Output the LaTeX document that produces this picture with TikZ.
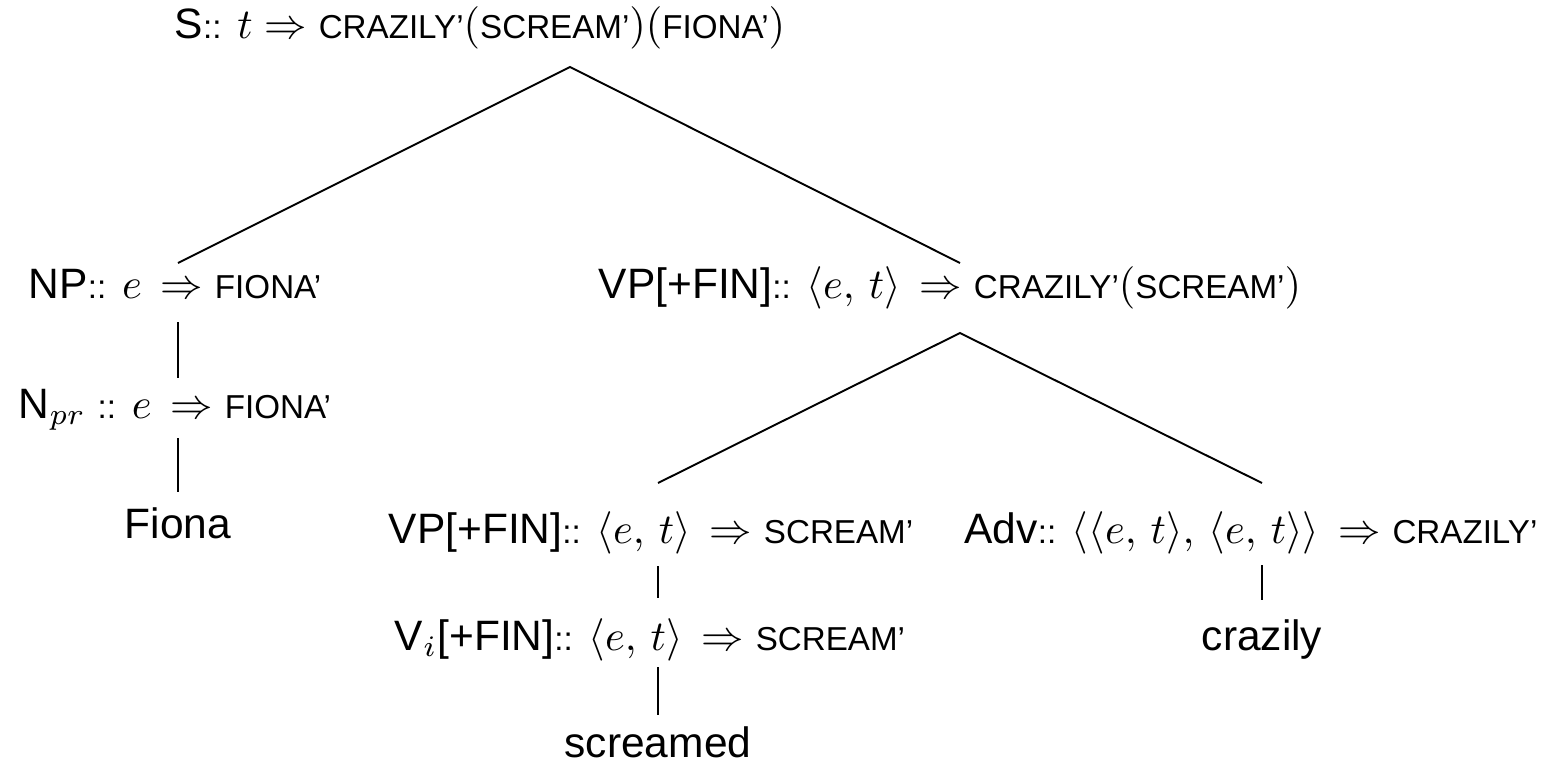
\documentclass[tikz,border=0pt]{standalone}
\usepackage{fontspec}
\setmainfont{Liberation Sans}
% reduced capitals for semantic constants
\newcommand{\sca}[1]{{\fontsize{7.8}{9}\selectfont #1}}
% double colon set in the reduced size
\newcommand{\dcol}{\sca{::}}
% type brackets and the derivation arrow
\newcommand{\tp}[2]{\langle #1,\mkern3mu #2\rangle}
\newcommand{\To}{\mkern3mu\Rightarrow}
\begin{document}
\begin{tikzpicture}[x=0.2353pt,y=-0.2353pt,
  lbl/.style={inner sep=0pt, anchor=base, font=\fontsize{10}{12}\selectfont},
  branch/.style={line width=0.45pt}]
\useasboundingbox (0,0) rectangle (1554,763);

% labels of the tree
\node[lbl] (S)     at (480,38)  {S\dcol{} $t \Rightarrow$ \sca{CRAZILY'}$($\sca{SCREAM'}$)($\sca{FIONA'}$)$};
\node[lbl] (NP)    at (175,298) {NP\dcol{} $e \To$ \sca{FIONA'}};
\node[lbl] (VP)    at (950,298) {VP[+FIN]\dcol{} $\tp{e}{t} \To$ \sca{CRAZILY'}$($\sca{SCREAM'}$)$};
\node[lbl] (Npr)   at (175,418) {N$_{pr}$ \dcol{} $e \To$ \sca{FIONA'}};
\node[lbl] (Fiona) at (178,538) {Fiona};
\node[lbl] (VPb)   at (651,543) {VP[+FIN]\dcol{} $\tp{e}{t} \To$ \sca{SCREAM'}};
\node[lbl] (Adv)   at (1251,543) {Adv\dcol{} $\tp{\tp{e}{t}}{\tp{e}{t}} \To$ \sca{CRAZILY'}};
\node[lbl] (Vi)    at (650,650) {V$_i$[+FIN]\dcol{} $\tp{e}{t} \To$ \sca{SCREAM'}};
\node[lbl] (craz)  at (1262,650) {crazily};
\node[lbl] (scr)   at (658,757) {screamed};

% attachment points of the branches
\coordinate (S-d)     at (570,67);
\coordinate (NP-u)    at (178,263);
\coordinate (NP-d)    at (178,322);
\coordinate (VP-u)    at (960,263);
\coordinate (VP-d)    at (960,333);
\coordinate (Npr-u)   at (178,378);
\coordinate (Npr-d)   at (178,438);
\coordinate (Fiona-u) at (178,492);
\coordinate (VPb-u)   at (658,483);
\coordinate (VPb-d)   at (658,566);
\coordinate (Adv-u)   at (1262,483);
\coordinate (Adv-d)   at (1262,565);
\coordinate (Vi-u)    at (658,598);
\coordinate (Vi-d)    at (658,667);
\coordinate (craz-u)  at (1262,600);
\coordinate (scr-u)   at (658,715);

% branches
\draw[branch] (NP-u) -- (S-d) -- (VP-u);
\draw[branch] (NP-d) -- (Npr-u);
\draw[branch] (Npr-d) -- (Fiona-u);
\draw[branch] (VPb-u) -- (VP-d) -- (Adv-u);
\draw[branch] (VPb-d) -- (Vi-u);
\draw[branch] (Vi-d) -- (scr-u);
\draw[branch] (Adv-d) -- (craz-u);
\end{tikzpicture}
\end{document}
